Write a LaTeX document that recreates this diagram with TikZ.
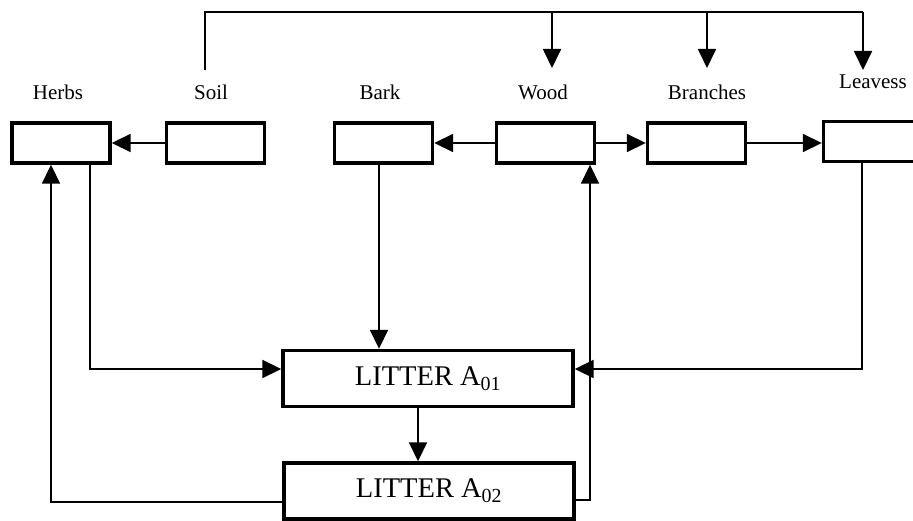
\documentclass[tikz,border=0pt]{standalone}
\usepackage{fontspec}
\setmainfont{Liberation Serif}
\usetikzlibrary{arrows.meta}
\tikzset{
  box/.style={draw, line width=3.4pt, minimum width=98pt, minimum height=40pt, inner sep=0pt},
  litter/.style={draw, line width=3.4pt, minimum width=290pt, minimum height=56pt, inner sep=0pt, font=\fontsize{28.5}{32}\selectfont},
  lbl/.style={font=\fontsize{21}{25}\selectfont, inner sep=0pt},
  conn/.style={line width=1.8pt},
  arr/.style={conn, -{Triangle[length=19pt,width=18pt]}}
}
\begin{document}
\begin{tikzpicture}[x=1pt,y=-1pt]
\clip (0,0) rectangle (913,521);
% labels
\node[lbl] (lherbs) at (58,92) {Herbs};
\node[lbl] (lsoil) at (211,92) {Soil};
\node[lbl] (lbark) at (380,92) {Bark};
\node[lbl] (lwood) at (543,92) {Wood};
\node[lbl] (lbranch) at (707,92) {Branches};
\node[lbl] (lleaves) at (873,82) {Leavess};
% boxes
\node[box] (herbs) at (61,143) {};
\node[box] (soil) at (215.5,143) {};
\node[box] (bark) at (383.5,143) {};
\node[box] (wood) at (545.5,143) {};
\node[box] (branch) at (696.5,143) {};
\node[box] (leaves) at (872.5,141.5) {};
\node[litter] (a1) at (428,378.5) {LITTER A\textsubscript{01}};
\node[litter] (a2) at (429,491) {LITTER A\textsubscript{02}};
% coordinates
\coordinate (sb) at (205,70);
\coordinate (tl) at (205,12);
\coordinate (tw) at (552,12);
\coordinate (tb) at (707,12);
\coordinate (tr) at (863,12);
\coordinate (ew) at (552,68);
\coordinate (eb) at (707,68);
\coordinate (er) at (863,70);
\coordinate (hx) at (90,369);
\coordinate (ux) at (51,502);
\coordinate (bx) at (379,0);
\coordinate (ax) at (418,0);
\coordinate (wx) at (590,500);
\coordinate (lx) at (862,369);
% top bus
\draw[conn] (sb) -- (tl) -- (tr);
\draw[arr] (tw) -- (ew);
\draw[arr] (tb) -- (eb);
\draw[arr] (tr) -- (er);
% horizontal arrows
\draw[arr] (soil.west) -- (herbs.east);
\draw[arr] (wood.west) -- (bark.east);
\draw[arr] (wood.east) -- (branch.west);
\draw[arr] (branch.east) -- (leaves.west |- branch.east);
% to litter
\draw[arr] (herbs.south -| hx) |- (a1.west |- hx);
\draw[arr] (bark.south -| bx) -- (a1.north -| bx);
\draw[arr] (leaves.south -| lx) |- (a1.east |- lx);
\draw[arr] (a1.south -| ax) -- (a2.north -| ax);
% returns
\draw[arr] (a2.west |- ux) -| (herbs.south -| ux);
\draw[arr] (a2.east |- wx) -| (wood.south -| wx);
\end{tikzpicture}
\end{document}
